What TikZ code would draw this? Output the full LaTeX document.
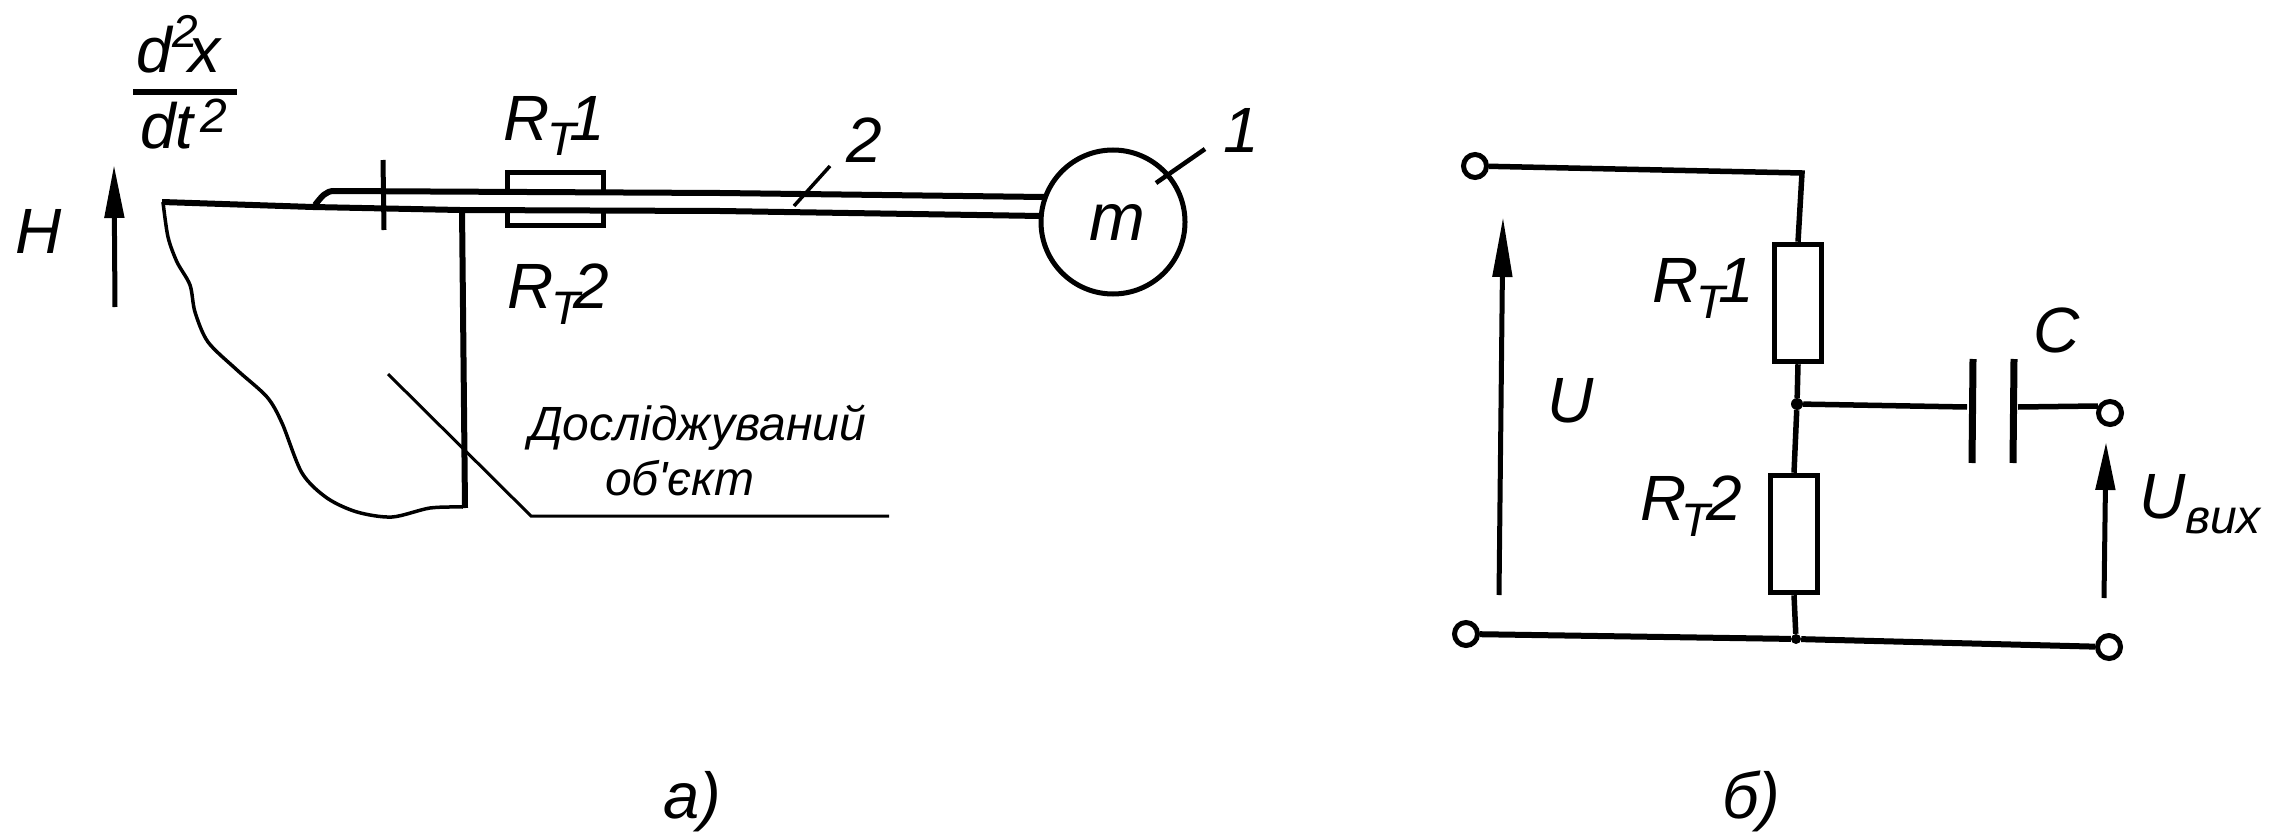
\documentclass[tikz,border=0pt]{standalone}
\usepackage{fontspec}
\setmainfont{Liberation Sans}
\newfontfamily\plainf{Liberation Sans}
\usetikzlibrary{arrows.meta}
\newcommand{\fsz}[1]{\fontsize{#1}{#1}\selectfont}
\newcommand{\RTlab}[3]{\fsz{64}\itshape R\kern#1pt\raisebox{-16pt}{\fsz{47}\itshape T}\kern#2pt #3}
\tikzset{
  lab/.style={inner sep=0pt,outer sep=0pt,anchor=base west,font=\fsz{64}\itshape},
  wire/.style={line width=5.5pt,black},
  thin wire/.style={line width=3pt,black},
  upar/.style={line width=5pt,-{Stealth[length=#1,width=19pt,inset=0pt]}},
  term/.style={circle,draw,line width=5pt,fill=white,inner sep=0pt,minimum size=23pt},
  res/.style={rectangle,draw,line width=5pt,fill=white,inner sep=0pt,minimum width=47.5pt,minimum height=117.5pt},
  gauge/.style={rectangle,draw,line width=5pt,inner sep=0pt,minimum width=96pt},
  dotj/.style={circle,fill=black,inner sep=0pt,minimum size=12pt},
}
\begin{document}
\begin{tikzpicture}[x=1pt,y=-1pt]
\useasboundingbox (0,0) rectangle (2280,840);
% --- part a
\node[gauge,minimum height=20pt] (gt) at (555,182) {};
\node[gauge,minimum height=15pt] (gb) at (555,218) {};
\node[circle,draw,line width=5pt,inner sep=0pt,minimum size=144pt] (mass) at (1113,222) {};
\node[lab,font=\fsz{67}\itshape] (mlab) at (1089,240) {m};
\node[lab] (dd) at (136,73) {d\kern1pt\raisebox{25pt}{\fsz{46}\itshape 2}\kern-10pt x};
\node[lab] (dt) at (140,148) {dt\kern7pt\raisebox{15pt}{\fsz{48}\itshape 2}};
\coordinate (fa) at (133,92); \coordinate (fb) at (237,92);
\draw[line width=6pt] (fa) -- (fb);
\node[lab] (H) at (16,253) {H};
\coordinate (ha) at (115,307); \coordinate (hb) at (114,165);
\draw[upar=53pt] (ha) -- (hb);
\node[lab] (rt1) at (503,140) {\RTlab{-2}{-6}{1}};
\node[lab] (rt2) at (507,308) {\RTlab{-2}{-6}{2}};
\coordinate (b0) at (162,202); \coordinate (b1) at (313,207); \coordinate (b2) at (460,210);
\coordinate (b3) at (720,211); \coordinate (b4) at (1041,216);
\coordinate (u0) at (315,205); \coordinate (u1) at (334,191); \coordinate (u2) at (720,193); \coordinate (u3) at (1044,197);
\draw[line width=6pt] (b0) -- (b1) -- (b2) -- (b3) -- (b4);
\draw[line width=6pt] (u0) .. controls (322,196) and (326,191) .. (u1) -- (u2) -- (u3);
\coordinate (ta) at (383,160); \coordinate (tb) at (384,230);
\draw[line width=5pt] (ta) -- (tb);
\coordinate (v0) at (462,208); \coordinate (v1) at (465,508);
\draw[line width=6pt] (v0) -- (v1);
\draw[line width=3.5pt] plot[smooth,tension=0.5] coordinates {(163,202) (168,237) (177,262) (190,285) (195,312) (208,342) (237,370) (267,397) (282,423) (302,473) (327,498) (357,512) (392,517) (430,508) (463,507)};
\coordinate (l0) at (388,374); \coordinate (l1) at (531,516); \coordinate (l2) at (889,516);
\draw[thin wire] (l0) -- (l1) -- (l2);
\node[lab,font=\fsz{48}\plainf\itshape] (ob1) at (529,440) {Досліджуваний};
\node[lab,font=\fsz{48}\plainf\itshape] (ob2) at (605,495) {об'єкт};
\node[lab] (n2) at (846,162) {2};
\node[lab] (n1) at (1223,153) {1};
\coordinate (la) at (1156,183); \coordinate (lb) at (1205,149);
\draw[line width=4.5pt] (la) -- (lb);
\coordinate (lc) at (794,206); \coordinate (ld) at (830,166);
\draw[line width=3.5pt] (lc) -- (ld);
\node[lab,font=\fsz{65}\itshape] (capa) at (663,818) {а)};
\node[lab,font=\fsz{65}\itshape] (capb) at (1722,818) {б)};
% --- part b
\node[term] (tl) at (1475,166) {};
\node[term] (bl) at (1466,634) {};
\node[term] (br) at (2109,647) {};
\node[term] (to) at (2110,413) {};
\node[res] (r1) at (1798,303) {};
\node[res] (r2) at (1794,534) {};
\coordinate (corner) at (1802,173);
\node[dotj] (j1) at (1797,404) {};
\node[dotj,minimum size=10pt] (j2) at (1796,639) {};
\draw[wire] (tl) -- (corner) -- (r1.north);
\draw[wire] (r1.south) -- (j1) -- (r2.north);
\draw[wire] (r2.south) -- (j2);
\draw[wire,line width=6pt] (bl) -- (j2) -- (br);
\coordinate (p1a) at (1973,359); \coordinate (p1b) at (1972,463);
\coordinate (p2a) at (2014,359); \coordinate (p2b) at (2013,463);
\draw[line width=7pt] (p1a) -- (p1b);
\draw[line width=7pt] (p2a) -- (p2b);
\coordinate (c1) at (1967,407); \coordinate (c2) at (2018,407);
\draw[wire] (j1) -- (c1);
\draw[wire] (c2) -- (to.150);
\coordinate (ua) at (1499,595); \coordinate (ub) at (1503,217);
\draw[upar=60pt] (ua) -- (ub);
\coordinate (oa) at (2104,598); \coordinate (ob) at (2106,442);
\draw[upar=48pt] (oa) -- (ob);
\node[lab] (U) at (1547,422) {U};
\node[lab] (rb1) at (1652,302) {\RTlab{-2}{-6}{1}};
\node[lab] (rb2) at (1640,520) {\RTlab{-5}{-3}{2}};
\node[lab] (C) at (2033,352) {C};
\node[lab] (Uo) at (2139,518) {U\raisebox{-15pt}{\fsz{48}\itshape вих}};
\end{tikzpicture}
\end{document}
